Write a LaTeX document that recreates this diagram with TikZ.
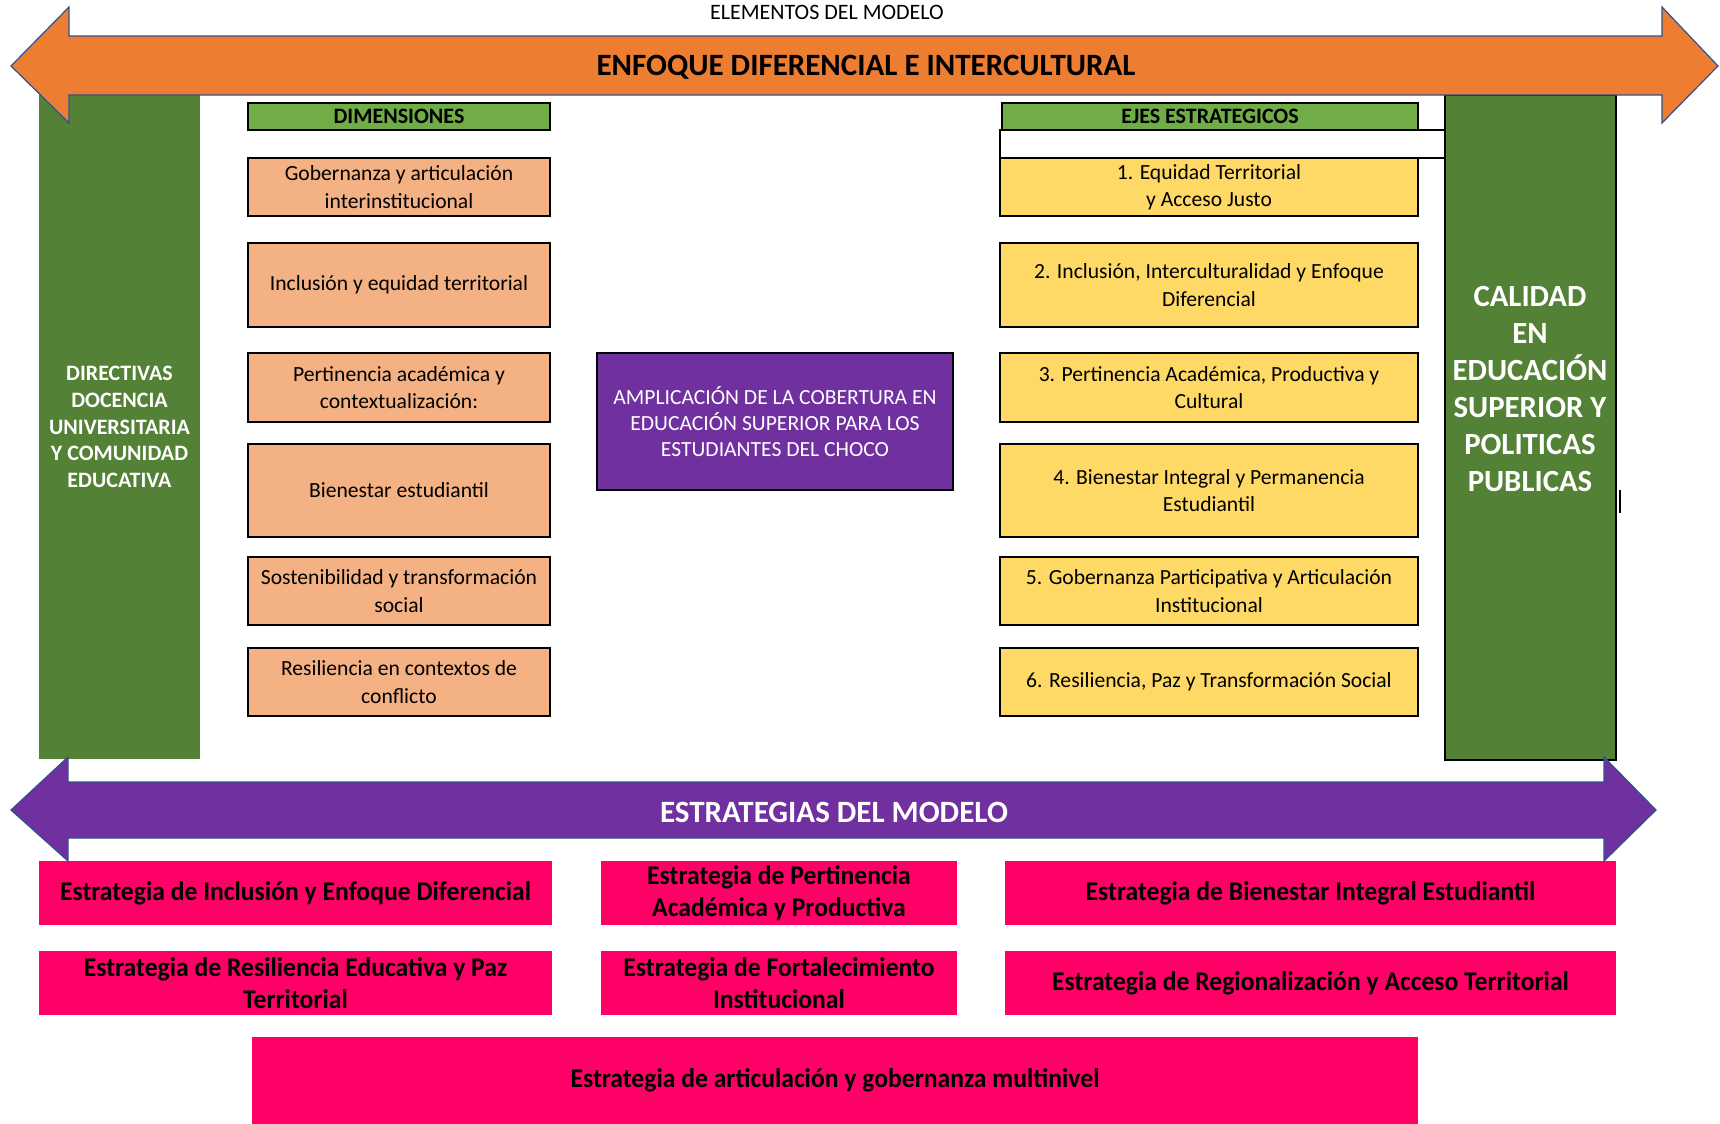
\documentclass[tikz,border=0pt]{standalone}
\usepackage{fontspec}
\setmainfont{Carlito}
\newfontfamily\stratfont{Carlito}[FakeStretch=0.95]
\definecolor{enfoque}{HTML}{ED7D31}
\definecolor{bargreen}{HTML}{538135}
\definecolor{headgreen}{HTML}{70AD47}
\definecolor{dimsalmon}{HTML}{F4B183}
\definecolor{ejeyellow}{HTML}{FFD966}
\definecolor{modpurple}{HTML}{7030A0}
\definecolor{stratpink}{HTML}{FF0066}
\definecolor{arrowline}{HTML}{2F528F}
\tikzset{
    every node/.style = {inner sep=0pt, align=center},
    bar/.style = {fill=bargreen, text=white, font=\bfseries\fontsize{11}{13.4}\selectfont},
    headbox/.style = {draw, line width=1pt, fill=headgreen, minimum height=13.5pt, font=\bfseries\fontsize{11}{12}\selectfont},
    dimbox/.style = {draw, line width=1pt, fill=dimsalmon, minimum width=151pt, font=\fontsize{10.8}{13.6}\selectfont},
    ejebox/.style = {dimbox, fill=ejeyellow, minimum width=209pt},
    stratbox/.style = {fill=stratpink, minimum height=32pt, font=\stratfont\bfseries\fontsize{13.5}{16}\selectfont},
    bigarrow/.style = {draw=arrowline, line width=0.6pt}
}

\begin{document}
\begin{tikzpicture}[x=0.5pt, y=-0.5pt]
    \useasboundingbox (0,0) rectangle (1720,1124);
    \node[bar, minimum width=80.5pt, minimum height=332pt] (dirbar) at (119.5,427) {DIRECTIVAS\\DOCENCIA\\UNIVERSITARIA\\Y COMUNIDAD\\EDUCATIVA};
    \node[bar, draw=black, line width=0.6pt, minimum width=85.5pt, minimum height=332.5pt] (calbar) at (1530.5,427.5) {};
    \node[text=white, font=\bfseries\fontsize{15.4}{18.5}\selectfont] (caltext) at (1530,389) {CALIDAD\\EN\\EDUCACIÓN\\SUPERIOR Y\\POLITICAS\\PUBLICAS};
    \draw[line width=1pt] (1620,490) -- (1620,513);

    \node[headbox, minimum width=151pt] (dimhead) at (399,116.5) {DIMENSIONES};
    \node[draw, line width=1pt, fill=white, minimum width=222.5pt, minimum height=14pt] (blank) at (1222.5,144) {};
    \node[headbox, minimum width=208pt] (ejehead) at (1210,116.5) {EJES ESTRATEGICOS};
    \foreach \ya/\yb/\txt [count=\i] in {158/216/{Gobernanza y articulación\\interinstitucional},
        243/327/{Inclusión y equidad territorial},
        353/422/{Pertinencia académica y\\contextualización:},
        444/537/{Bienestar estudiantil},
        557/625/{Sostenibilidad y transformación\\social},
        648/716/{Resiliencia en contextos de\\conflicto}}
        \node[dimbox, minimum height={(\yb-\ya)*0.5pt}] (dim\i) at (399,{(\ya+\yb)/2}) {\txt};
    \foreach \ya/\yb/\txt [count=\i] in {158/216/{1. Equidad Territorial\\y Acceso Justo},
        243/327/{2. Inclusión, Interculturalidad y Enfoque\\Diferencial},
        353/422/{3. Pertinencia Académica, Productiva y\\Cultural},
        444/537/{4. Bienestar Integral y Permanencia\\Estudiantil},
        557/625/{5. Gobernanza Participativa y Articulación\\Institucional},
        648/716/{6. Resiliencia, Paz y Transformación Social}}
        \node[ejebox, minimum height={(\yb-\ya)*0.5pt}] (eje\i) at (1209,{(\ya+\yb)/2}) {\txt};
    \node[draw, line width=1pt, fill=modpurple, text=white, minimum width=178pt, minimum height=68.5pt, font=\fontsize{10.8}{13}\selectfont] (cobertura) at (775,421.5) {AMPLICACIÓN DE LA COBERTURA EN\\EDUCACIÓN SUPERIOR PARA LOS\\ESTUDIANTES DEL CHOCO};

    \node[stratbox, minimum width=256.5pt] (inclusion) at (295.5,893) {Estrategia de Inclusión y Enfoque Diferencial};
    \node[stratbox, minimum width=178pt] (pertinencia) at (779,893) {Estrategia de Pertinencia\\Académica y Productiva};
    \node[stratbox, minimum width=305.5pt] (bienestar) at (1310.5,893) {Estrategia de Bienestar Integral Estudiantil};
    \node[stratbox, minimum width=256.5pt] (resiliencia) at (295.5,983) {Estrategia de Resiliencia Educativa y Paz\\Territorial};
    \node[stratbox, minimum width=178pt] (fortalecimiento) at (779,983) {Estrategia de Fortalecimiento\\Institucional};
    \node[stratbox, minimum width=305.5pt] (regionalizacion) at (1310.5,983) {Estrategia de Regionalización y Acceso Territorial};
    \node[stratbox, minimum width=583pt, minimum height=43.5pt] (multinivel) at (835,1080.5) {Estrategia de articulación y gobernanza multinivel};

    \filldraw[bigarrow, fill=enfoque] (11,66) -- (69,7) -- (69,36) -- (1662,36) -- (1662,7) -- (1718,66) -- (1662,123) -- (1662,95) -- (69,95) -- (69,123) -- cycle;
    \node[font=\bfseries\fontsize{15.5}{18}\selectfont] (enfoquetext) at (866,67) {ENFOQUE DIFERENCIAL E INTERCULTURAL};
    \node[font=\fontsize{11}{12}\selectfont] (elementos) at (827,12) {ELEMENTOS DEL MODELO};
    \filldraw[bigarrow, fill=modpurple] (11,810) -- (68,757) -- (68,782) -- (1604,782) -- (1604,757) -- (1656,810) -- (1604,861) -- (1604,838) -- (68,838) -- (68,861) -- cycle;
    \node[text=white, font=\bfseries\fontsize{15.5}{18}\selectfont] (estrategias) at (834,812) {ESTRATEGIAS DEL MODELO};
\end{tikzpicture}
\end{document}
